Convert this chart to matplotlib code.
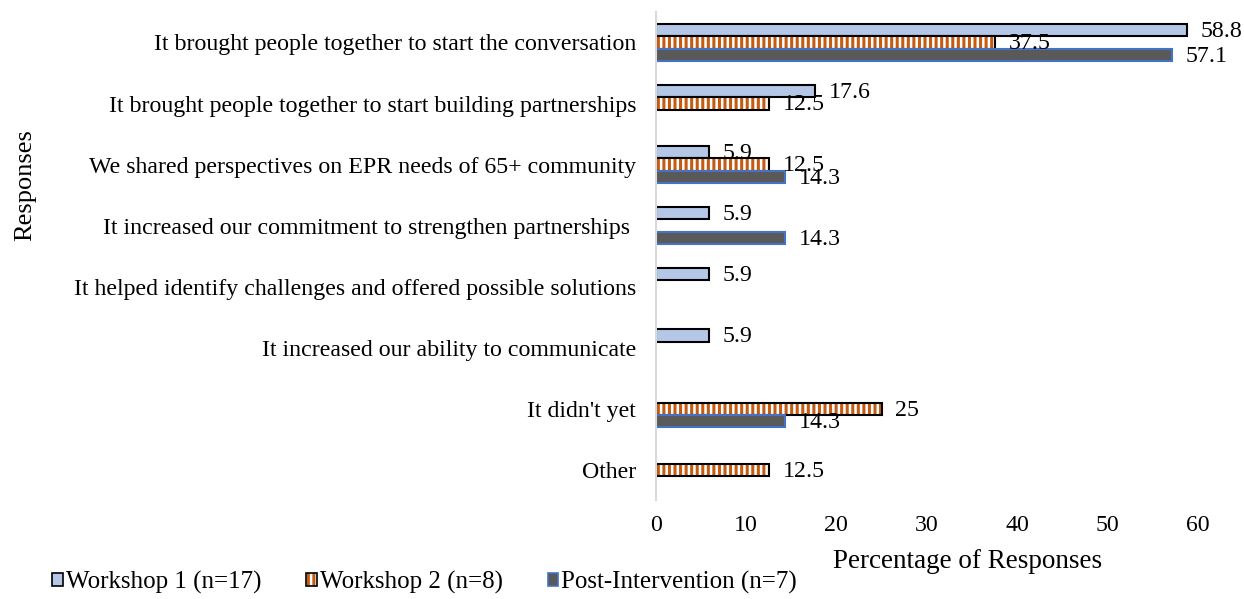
import numpy as np
import matplotlib
matplotlib.use("Agg")
import matplotlib.pyplot as plt
from matplotlib.patches import Patch
from matplotlib.legend_handler import HandlerTuple

plt.rcParams['font.family'] = ['Liberation Serif', 'DejaVu Serif']
plt.rcParams['hatch.linewidth'] = 2.2

# ------------------------------------------------------------
# data (top to bottom)
# ------------------------------------------------------------
categories = [
    "It brought people together to start the conversation",
    "It brought people together to start building partnerships",
    "We shared perspectives on EPR needs of 65+ community",
    "It increased our commitment to strengthen partnerships ",
    "It helped identify challenges and offered possible solutions",
    "It increased our ability to communicate",
    "It didn't yet",
    "Other",
]
workshop1 = [58.8, 17.6, 5.9, 5.9, 5.9, 5.9, np.nan, np.nan]
workshop2 = [37.5, 12.5, 12.5, np.nan, np.nan, np.nan, 25, 12.5]
post_int = [57.1, np.nan, 14.3, 14.3, np.nan, np.nan, 14.3, np.nan]
series_names = ["Workshop 1 (n=17)", "Workshop 2 (n=8)", "Post-Intervention (n=7)"]
xticks = [0, 10, 20, 30, 40, 50, 60]

W1_FACE = "#B4C7E7"
W2_STRIPE = "#C55A11"
POST_FACE = "#595959"
POST_EDGE = "#4472C4"

fig = plt.figure(figsize=(12.44, 5.99), dpi=100)
ax = fig.add_axes([0.527, 0.165, 0.436, 0.815])

y = np.arange(len(categories))
h = 0.2
FS = 17.2

# Workshop 1
ax.barh(y - h, workshop1, height=h, color=W1_FACE, edgecolor="black", linewidth=1.5)
# Workshop 2 : striped fill, then black outline
ax.barh(y, workshop2, height=h, color="white", edgecolor=W2_STRIPE, hatch="|||", linewidth=0)
ax.barh(y, workshop2, height=h, fill=False, edgecolor="black", linewidth=1.5)
# Post-Intervention
ax.barh(y + h, post_int, height=h, color=POST_FACE, edgecolor=POST_EDGE, linewidth=1.5)

# value labels
for vals, off in [(workshop1, -h), (workshop2, 0), (post_int, h)]:
    for yi, v in zip(y, vals):
        if np.isnan(v):
            continue
        ax.annotate(f"{v:g}", (v, yi + off), xytext=(10, -1), textcoords="offset points",
                    va="center", ha="left", fontsize=FS)

ax.set_ylim(len(categories) - 0.5, -0.5)
ax.set_xlim(0, 60)
ax.set_xticks(xticks)
ax.set_yticks(y)
ax.set_yticklabels(categories, fontsize=FS)
ax.tick_params(axis="both", length=0, labelsize=FS)
ax.tick_params(axis="x", pad=11)
ax.tick_params(axis="y", pad=14)

for s in ["top", "right", "bottom"]:
    ax.spines[s].set_visible(False)
ax.spines["left"].set_color("#D9D9D9")
ax.spines["left"].set_linewidth(1.5)

fig.text(968 / 1244, 1 - 561 / 599, "Percentage of Responses", ha="center", va="center", fontsize=19.5)
fig.text(0.02, 1 - 185 / 599, "Responses", rotation=90, va="center", ha="center", fontsize=19)

handles = [
    Patch(facecolor=W1_FACE, edgecolor="black", linewidth=1.2),
    (Patch(facecolor="white", edgecolor=W2_STRIPE, hatch="|||", linewidth=0),
     Patch(fill=False, edgecolor="black", linewidth=1.2)),
    Patch(facecolor=POST_FACE, edgecolor=POST_EDGE, linewidth=1.2),
]
leg = fig.legend(handles, series_names, loc="center left", bbox_to_anchor=(0.034, 1 - 582 / 599),
                 ncol=3, frameon=False, fontsize=18, handlelength=0.42, handleheight=0.42,
                 handletextpad=0.12, columnspacing=1.8, borderaxespad=0.0,
                 handler_map={tuple: HandlerTuple(ndivide=1)})

fig.savefig("out.png", dpi=100)
